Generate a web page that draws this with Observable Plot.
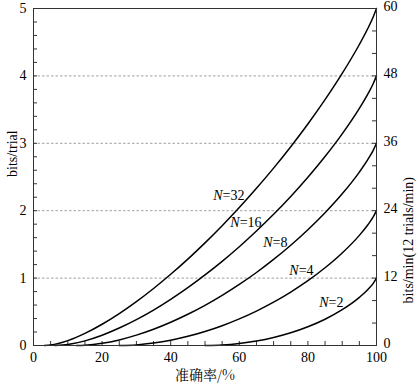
<!DOCTYPE html>
<html>
<head>
<meta charset="utf-8">
<script src="https://cdn.jsdelivr.net/npm/d3@7"></script>
<script src="https://cdn.jsdelivr.net/npm/@observablehq/plot@0.6"></script>
<style>
  html, body { margin: 0; padding: 0; background: #fff; }
</style>
</head>
<body>
<div id="chart"></div>
<script>
// Accuracy (%) and information (bits/trial)
const n32Acc  = [3.125, 5, 10, 15, 20, 25, 30, 35, 40, 45, 50, 55, 60, 65, 70, 75, 80, 85, 90, 95, 97.5, 99, 100];
const n32Bits = [0, 0.007, 0.072, 0.179, 0.315, 0.473, 0.651, 0.846, 1.057, 1.282, 1.523, 1.778, 2.047, 2.332, 2.632, 2.950, 3.287, 3.647, 4.036, 4.466, 4.707, 4.870, 5];
const n16Acc  = [6.25, 10, 15, 20, 25, 30, 35, 40, 45, 50, 55, 60, 65, 70, 75, 80, 85, 90, 95, 97.5, 99, 100];
const n16Bits = [0, 0.015, 0.069, 0.153, 0.259, 0.384, 0.526, 0.685, 0.858, 1.047, 1.249, 1.466, 1.699, 1.947, 2.212, 2.497, 2.804, 3.140, 3.518, 3.734, 3.880, 4];
const n8Acc   = [12.5, 15, 20, 25, 30, 35, 40, 45, 50, 55, 60, 65, 70, 75, 80, 85, 90, 95, 97.5, 99, 100];
const n8Bits  = [0, 0.004, 0.032, 0.083, 0.154, 0.241, 0.345, 0.463, 0.596, 0.744, 0.906, 1.083, 1.277, 1.487, 1.717, 1.969, 2.250, 2.573, 2.761, 2.891, 3];
const n4Acc   = [25, 30, 35, 40, 45, 50, 55, 60, 65, 70, 75, 80, 85, 90, 95, 97.5, 99, 100];
const n4Bits  = [0, 0.009, 0.036, 0.078, 0.136, 0.208, 0.294, 0.395, 0.511, 0.643, 0.793, 0.961, 1.153, 1.373, 1.634, 1.792, 1.903, 2];
const n2Acc   = [50, 55, 60, 65, 70, 75, 80, 85, 90, 95, 97.5, 99, 100];
const n2Bits  = [0, 0.007, 0.029, 0.066, 0.119, 0.189, 0.278, 0.390, 0.531, 0.714, 0.831, 0.919, 1];

// Curve labels
const labelN = ["32", "16", "8", "4", "2"];
const labelX = [55.1, 60.1, 69.7, 77.3, 86.0];
const labelY = [2.23, 1.83, 1.53, 1.11, 0.64];

// Axis ticks
const xTickLabels = [0, 20, 40, 60, 80, 100];
const xMinorTicks = d3.range(0, 101, 5);
const yTickLabels = [0, 1, 2, 3, 4, 5];
const yMinorTicks = d3.range(0, 26).map(i => i / 5);
const yRightMinorTicks = d3.range(0, 16).map(i => i / 3);
const gridValues = [1, 2, 3, 4];
const trialsPerMin = 12;

const series = [
  {acc: n32Acc, bits: n32Bits, n: 32},
  {acc: n16Acc, bits: n16Bits, n: 16},
  {acc: n8Acc, bits: n8Bits, n: 8},
  {acc: n4Acc, bits: n4Bits, n: 4},
  {acc: n2Acc, bits: n2Bits, n: 2}
];
const lineData = series.flatMap(s => s.acc.map((a, i) => ({acc: a, bits: s.bits[i], n: s.n})));
const labels = labelN.map((t, i) => ({t, x: labelX[i], y: labelY[i]}));

const W = 418, H = 386, mL = 33, mR = 42, mT = 8, mB = 41;
const plotW = W - mL - mR, plotH = H - mT - mB;
const serif = "Liberation Serif";
const cjk = "Noto Serif CJK SC";
const axisColor = "#333";
const fs = 14;

const chart = Plot.plot({
  width: W,
  height: H,
  marginLeft: mL,
  marginRight: mR,
  marginTop: mT,
  marginBottom: mB,
  style: {background: "#fff", color: "#000"},
  x: {domain: [0, 100]},
  y: {domain: [0, 5]},
  marks: [
    Plot.ruleY(gridValues, {y: d => d, stroke: "#888", strokeDasharray: "2.5,2", strokeWidth: 0.8}),
    // inward ticks
    Plot.tickX(xMinorTicks, {x: d => d, insetTop: plotH - 4, stroke: axisColor}),
    Plot.tickY(yMinorTicks, {y: d => d, insetRight: plotW - 4, stroke: axisColor}),
    Plot.tickY(yRightMinorTicks, {y: d => d, insetLeft: plotW - 4, stroke: axisColor}),
    Plot.axisX({ticks: xTickLabels, tickSize: 0, tickPadding: 7, label: null, fontSize: fs, fontFamily: serif, tickFormat: d => String(d)}),
    Plot.axisY({ticks: yTickLabels, tickSize: 0, tickPadding: 7, label: null, anchor: "left", fontSize: fs, fontFamily: serif, tickFormat: d => String(d)}),
    Plot.axisY({ticks: yTickLabels, tickSize: 0, tickPadding: 7, label: null, anchor: "right", fontSize: fs, fontFamily: serif, dy: -2,
                tickFormat: d => String(d * trialsPerMin)}),
    Plot.line(lineData, {x: "acc", y: "bits", z: "n", stroke: "#000", strokeWidth: 1.5, curve: "monotone-x"}),
    Plot.text(labels, {x: "x", y: "y", text: () => "N", textAnchor: "end", fontStyle: "italic", fontSize: fs, fontFamily: serif}),
    Plot.text(labels, {x: "x", y: "y", text: d => "=" + d.t, textAnchor: "start", fontSize: fs, fontFamily: serif}),
    Plot.frame({stroke: axisColor}),
    Plot.text(["bits/trial"], {text: d => d, frameAnchor: "left", dx: -21, rotate: -90, fontSize: fs, fontFamily: serif}),
    Plot.text(["bits/min(12 trials/min)"], {text: d => d, frameAnchor: "right", dx: 32, rotate: -90, fontSize: fs, fontFamily: serif}),
    Plot.text(["准确率/%"], {text: d => d, frameAnchor: "bottom", dy: 34, fontSize: 14, fontFamily: cjk})
  ]
});
// make sure each text carries its font directly
d3.select(chart).selectAll("text").each(function () {
  const isCjk = /[\u4e00-\u9fff]/.test(this.textContent);
  this.style.fontFamily = isCjk ? "'Noto Serif CJK SC', 'Liberation Serif', serif" : "'Liberation Serif', serif";
});
document.getElementById("chart").appendChild(chart);
</script>
</body>
</html>
